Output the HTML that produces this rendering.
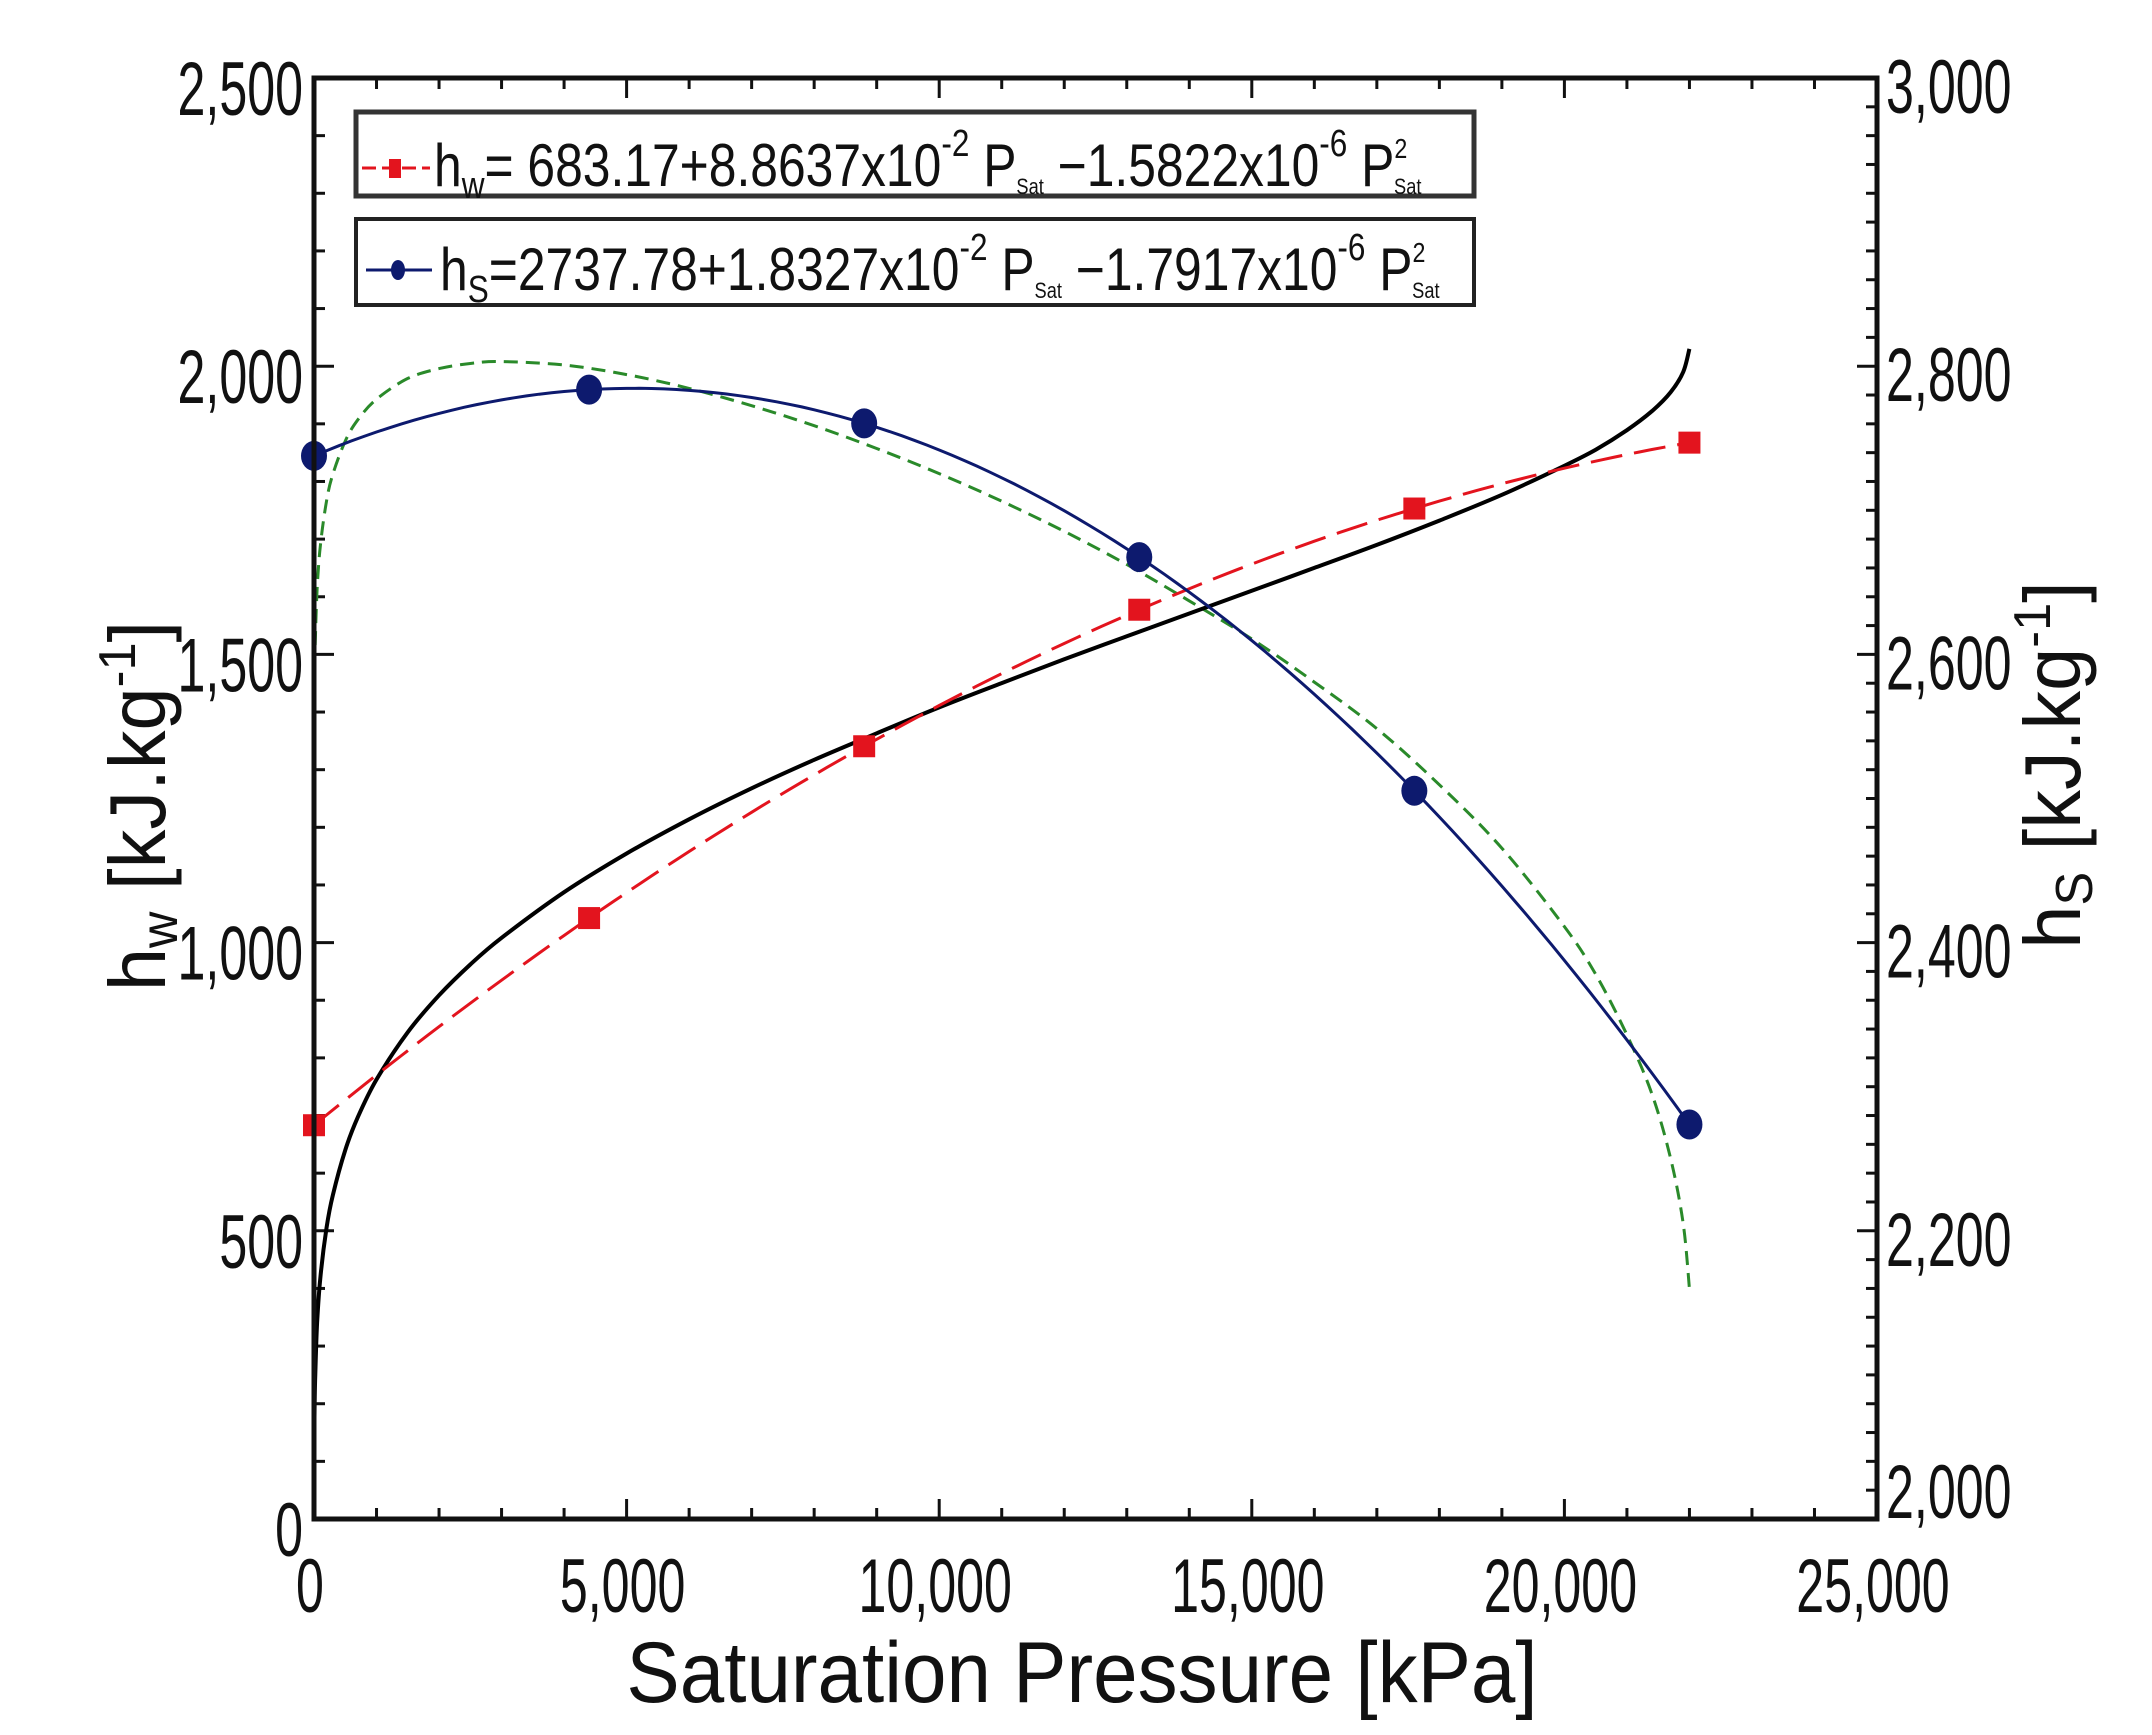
<!DOCTYPE html>
<html><head><meta charset="utf-8"><style>
html,body{margin:0;padding:0;background:#fff}
svg{display:block}
text{font-family:"Liberation Sans",Arial,sans-serif;fill:#111}
</style></head><body>
<svg id="s" width="2152" height="1735" viewBox="0 0 2152 1735" xmlns="http://www.w3.org/2000/svg">
<rect width="2152" height="1735" fill="#fff"/>
<g id="ticks" stroke="#111" stroke-width="3"></g>
<g id="curves" fill="none"></g>
<g id="marks"></g>
<rect x="314" y="78" width="1563" height="1441" fill="none" stroke="#111" stroke-width="5"/>
<!-- Legend -->
<rect x="356" y="112" width="1118" height="84" fill="#fff" stroke="#333" stroke-width="5"/>
<rect x="356" y="219" width="1118" height="86" fill="#fff" stroke="#222" stroke-width="4"/>
<line x1="362" y1="168" x2="430" y2="168" stroke="#e3141e" stroke-width="3" stroke-dasharray="14,6"/>
<rect x="389" y="159" width="12" height="19" fill="#e3141e"/>
<line x1="366" y1="270" x2="432" y2="270" stroke="#0d1a6e" stroke-width="3"/>
<ellipse cx="398" cy="270" rx="7" ry="10" fill="#0d1a6e"/>
<g transform="translate(434,186) scale(0.83,1)">
<text font-size="60">h<tspan font-size="38" dy="12">w</tspan><tspan dy="-12">= 683.17+8.8637x10</tspan><tspan font-size="38" dy="-30">-2</tspan><tspan dy="30"> P</tspan><tspan font-size="22" dy="8">Sat</tspan><tspan dy="-8"> −1.5822x10</tspan><tspan font-size="38" dy="-30">-6</tspan><tspan dy="30"> P</tspan><tspan font-size="28" dy="-28">2</tspan><tspan font-size="22" dy="36" dx="-16">Sat</tspan></text>
</g>
<g transform="translate(440,290) scale(0.83,1)">
<text font-size="60">h<tspan font-size="38" dy="12">S</tspan><tspan dy="-12">=2737.78+1.8327x10</tspan><tspan font-size="38" dy="-30">-2</tspan><tspan dy="30"> P</tspan><tspan font-size="22" dy="8">Sat</tspan><tspan dy="-8"> −1.7917x10</tspan><tspan font-size="38" dy="-30">-6</tspan><tspan dy="30"> P</tspan><tspan font-size="28" dy="-28">2</tspan><tspan font-size="22" dy="36" dx="-16">Sat</tspan></text>
</g>
<g id="labels"></g>
<!-- axis titles -->
<g transform="translate(1082,1702) scale(0.93,1)"><text font-size="86" text-anchor="middle">Saturation Pressure [kPa]</text></g>
<g transform="translate(165,806) rotate(-90) scale(0.97,1)"><text font-size="80" text-anchor="middle">h<tspan font-size="52" dy="12">w</tspan><tspan dy="-12"> [kJ.kg</tspan><tspan font-size="52" dy="-30">-1</tspan><tspan dy="30">]</tspan></text></g>
<g transform="translate(2080,765) rotate(-90) scale(0.97,1)"><text font-size="80" text-anchor="middle">h<tspan font-size="52" dy="12">S</tspan><tspan dy="-12"> [kJ.kg</tspan><tspan font-size="52" dy="-30">-1</tspan><tspan dy="30">]</tspan></text></g>
</svg>
<script>
var NS="http://www.w3.org/2000/svg";
function px(P){return 314+P*0.06252;}
function pyL(h){return 1519-h*0.5764;}
function pyR(h){return 1519-(h-2000)*1.441;}
function el(tag,attrs,parent,txt){var e=document.createElementNS(NS,tag);for(var k in attrs)e.setAttribute(k,attrs[k]);if(txt!==undefined)e.textContent=txt;document.getElementById(parent).appendChild(e);return e;}
for(var P=0;P<=25000;P+=1000){var L=(P%5000==0)?20:11;var x=px(P);
 el("line",{x1:x,y1:1519,x2:x,y2:1519-L},"ticks");el("line",{x1:x,y1:78,x2:x,y2:78+L},"ticks");}
for(var h=0;h<=2500;h+=100){var L=(h%500==0)?20:11;var y=pyL(h);el("line",{x1:314,y1:y,x2:314+L,y2:y},"ticks");}
for(var h=2000;h<=3000;h+=20){var L=(h%200==0)?20:11;var y=pyR(h);el("line",{x1:1877,y1:y,x2:1877-L,y2:y},"ticks");}
function lab(x,y,t,anchor){var g=el("g",{transform:"translate("+x+","+y+") scale(0.66,1)"},"labels");var e=document.createElementNS(NS,"text");e.setAttribute("font-size","76");e.setAttribute("text-anchor",anchor);e.textContent=t;g.appendChild(e);}
var yl=["0","500","1,000","1,500","2,000","2,500"];
for(var i=0;i<6;i++){lab(303,pyL(i*500)+37,yl[i],"end");}
var yr=["2,000","2,200","2,400","2,600","2,800","3,000"];
for(var i=0;i<6;i++){var yy=pyR(2000+i*200)+35;if(i==0)yy=1518;lab(1886,yy,yr[i],"start");}
var xl=["0","5,000","10,000","15,000","20,000","25,000"];
for(var i=0;i<6;i++){lab(px(i*5000)-4,1612,xl[i],"middle");}
var tab=[[0.6,0,2501],[1,29.3,2513.7],[5,137.8,2560.7],[10,191.8,2583.9],[20,251.4,2608.9],[50,340.5,2645.2],[100,417.5,2675],[200,504.7,2706.3],[300,561.4,2724.9],[500,640.1,2748.1],[700,697,2762.8],[1000,762.5,2777.1],[1500,844.6,2791.5],[2000,908.5,2798.3],[2500,962,2801.9],[3000,1008.3,2803.2],[4000,1087.4,2800.8],[5000,1154.5,2794.2],[6000,1213.9,2784.6],[7000,1267.7,2772.6],[8000,1317.1,2758.7],[9000,1363.1,2742.9],[10000,1408.1,2725.5],[11000,1450.2,2706.3],[12000,1491.5,2685.4],[13000,1531.4,2662.4],[14000,1571,2637.1],[15000,1610.3,2610.7],[16000,1650,2580.8],[17000,1690,2548.5],[18000,1732.2,2509.5],[19000,1776.9,2465.5],[20000,1827.2,2411.1],[20500,1855,2378],[21000,1889,2336],[21400,1922,2295],[21700,1955,2250],[21900,1990,2205],[22000,2030,2160]];
function cr(pts){var d="M"+pts[0][0].toFixed(1)+","+pts[0][1].toFixed(1);
 for(var i=0;i<pts.length-1;i++){var p0=pts[Math.max(0,i-1)],p1=pts[i],p2=pts[i+1],p3=pts[Math.min(pts.length-1,i+2)];
  var c1x=p1[0]+(p2[0]-p0[0])/6,c1y=p1[1]+(p2[1]-p0[1])/6,c2x=p2[0]-(p3[0]-p1[0])/6,c2y=p2[1]-(p3[1]-p1[1])/6;
  d+="C"+c1x.toFixed(1)+","+c1y.toFixed(1)+" "+c2x.toFixed(1)+","+c2y.toFixed(1)+" "+p2[0].toFixed(1)+","+p2[1].toFixed(1);}
 return d;}
var bp=tab.map(function(r){return [px(r[0]),pyL(r[1])];});
var gp=tab.slice(2).map(function(r){return [px(r[0]),pyR(r[2])];});
var rd="",bl="";
for(var P=0;P<=22000;P+=200){var hw=683.17+0.088637*P-1.5822e-6*P*P;var hs=2737.78+0.018327*P-1.7917e-6*P*P;
 rd+=(P?"L":"M")+px(P).toFixed(1)+","+pyL(hw).toFixed(1);bl+=(P?"L":"M")+px(P).toFixed(1)+","+pyR(hs).toFixed(1);}
el("path",{d:cr(gp),stroke:"#2a8a2a","stroke-width":3,"stroke-dasharray":"14,8"},"curves");
el("path",{d:cr(bp),stroke:"#000","stroke-width":4},"curves");
el("path",{d:rd,stroke:"#e3141e","stroke-width":3,"stroke-dasharray":"32,12"},"curves");
el("path",{d:bl,stroke:"#0d1a6e","stroke-width":3},"curves");
[0,4400,8800,13200,17600,22000].forEach(function(P){var hw=683.17+0.088637*P-1.5822e-6*P*P;var hs=2737.78+0.018327*P-1.7917e-6*P*P;
 el("rect",{x:px(P)-11,y:pyL(hw)-11,width:22,height:22,fill:"#e3141e"},"marks");
 el("ellipse",{cx:px(P),cy:pyR(hs),rx:13,ry:15,fill:"#0d1a6e"},"marks");});
</script>
</body></html>
